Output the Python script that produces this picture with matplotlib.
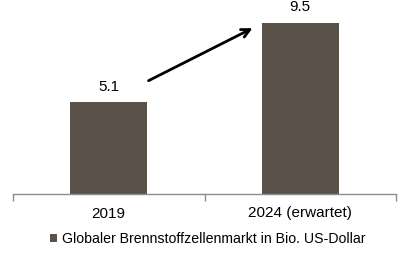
import matplotlib
matplotlib.use("Agg")
import matplotlib.pyplot as plt

categories = ["2019", "2024 (erwartet)"]
values = [5.1, 9.5]
value_labels = ["5.1", "9.5"]
legend_label = "Globaler Brennstoffzellenmarkt in Bio. US-Dollar"

bar_color = "#5a5249"
axis_color = "#8c8c8c"

plt.rcParams["font.family"] = ["Liberation Sans", "DejaVu Sans"]

fig = plt.figure(figsize=(4.09, 2.59), dpi=100)
ax = fig.add_axes([13/409, 65/259, 383/409, 194/259])

x = list(range(len(categories)))
bars = ax.bar(x, values, width=0.4, color=bar_color, label=legend_label)

for xi, v, lab in zip(x, values, value_labels):
    ax.text(xi, v + 0.45, lab, ha="center", va="bottom", fontsize=11, color="black")

ax.set_xlim(-0.5, len(categories) - 0.5)
ax.set_ylim(0, 10.75)

ax.set_yticks([])
for s in ["top", "right", "left"]:
    ax.spines[s].set_visible(False)
ax.spines["bottom"].set_color(axis_color)
ax.spines["bottom"].set_linewidth(1.0)

ax.set_xticks([i - 0.5 for i in range(len(categories) + 1)], minor=False)
ax.set_xticklabels([])
ax.tick_params(axis="x", which="major", direction="out", length=5, color=axis_color, width=1.0)
ax.set_xticks(x, minor=True)
ax.set_xticklabels(categories, minor=True, fontsize=11)
ax.tick_params(axis="x", which="minor", length=0, pad=9)

# growth arrow between the bars
ax.annotate("", xy=(0.764, 9.26), xytext=(0.195, 6.21),
            arrowprops=dict(arrowstyle="->", color="black", lw=2.0, mutation_scale=15))

fig.legend(handles=[bars], labels=[legend_label], loc="center",
           bbox_to_anchor=(208/409, 1 - 239/259), frameon=False, fontsize=10.2,
           handlelength=0.5, handleheight=0.5, handletextpad=0.35)

fig.savefig("out.png", dpi=100)
